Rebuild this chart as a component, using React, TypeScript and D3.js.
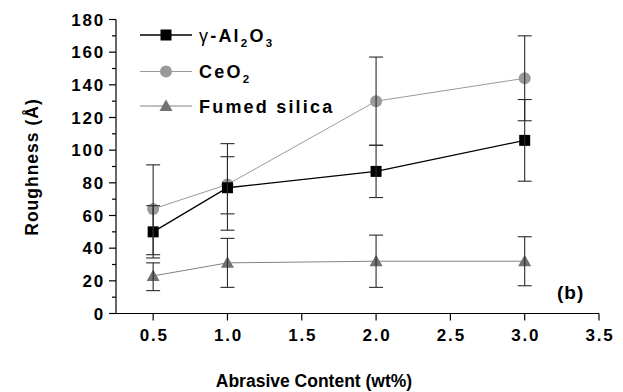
import React from 'react';
import * as d3 from 'd3';

const contents = [0.5, 1.0, 2.0, 3.0];
const alumina = [50, 77, 87, 106];
const aluminaErrUp = [16, 19, 16, 25];
const aluminaErrDown = [16, 16, 16, 25];
const ceria = [64, 79, 130, 144];
const ceriaErrUp = [27, 25, 27, 26];
const ceriaErrDown = [28, 28, 27, 26];
const silica = [23, 31, 32, 32];
const silicaErrUp = [8, 15, 16, 15];
const silicaErrDown = [9, 15, 16, 15];

const xTicks = [0.5, 1.0, 1.5, 2.0, 2.5, 3.0, 3.5];
const yTicks = [0, 20, 40, 60, 80, 100, 120, 140, 160, 180];
const yMinor = [10, 30, 50, 70, 90, 110, 130, 150, 170];

const W = 623;
const H = 392;
const margin = { top: 19.5, right: 24, bottom: 78.5, left: 116 };

const font = '"Liberation Sans", Arial, sans-serif';

type Series = {
  key: string;
  values: number[];
  up: number[];
  down: number[];
  color: string;
  lineColor: string;
  lineWidth: number;
  marker: 'square' | 'circle' | 'triangle';
};

const series: Series[] = [
  { key: 'ceria', values: ceria, up: ceriaErrUp, down: ceriaErrDown, color: '#9a9a9a', lineColor: '#9a9a9a', lineWidth: 1, marker: 'circle' },
  { key: 'silica', values: silica, up: silicaErrUp, down: silicaErrDown, color: '#727272', lineColor: '#808080', lineWidth: 1, marker: 'triangle' },
  { key: 'alumina', values: alumina, up: aluminaErrUp, down: aluminaErrDown, color: '#000000', lineColor: '#000000', lineWidth: 1.3, marker: 'square' },
];

const Marker = ({ type, x, y, color }: { type: string; x: number; y: number; color: string }) => {
  if (type === 'square') return <rect x={x - 5.5} y={y - 5.5} width={11} height={11} fill={color} />;
  if (type === 'circle') return <circle cx={x} cy={y} r={6} fill={color} />;
  return <path d={`M${x},${y - 6.5}L${x + 6.5},${y + 5}L${x - 6.5},${y + 5}Z`} fill={color} />;
};

export default function App() {
  const innerW = W - margin.left - margin.right;
  const innerH = H - margin.top - margin.bottom;

  const x = d3.scaleLinear().domain([0.25, 3.5]).range([0, innerW]);
  const y = d3.scaleLinear().domain([0, 180]).range([innerH, 0]);

  const line = d3.line<number>()
    .x((_, i) => x(contents[i]))
    .y(d => y(d));

  const legendRows = [
    { marker: 'square', color: '#000000', lineColor: '#000000', y: 35 },
    { marker: 'circle', color: '#9a9a9a', lineColor: '#9a9a9a', y: 71.5 },
    { marker: 'triangle', color: '#727272', lineColor: '#808080', y: 106 },
  ];

  return (
    <svg width={W} height={H} style={{ position: 'absolute', left: 0, top: 0, fontFamily: font, background: '#fff' }}>
      <g transform={`translate(${margin.left}, ${margin.top})`}>
        {/* series lines */}
        {series.map(s => (
          <path key={`l-${s.key}`} d={line(s.values) ?? ''} fill="none" stroke={s.lineColor} strokeWidth={s.lineWidth} />
        ))}

        {/* markers */}
        {series.map(s => s.values.map((v, i) => (
          <Marker key={`m-${s.key}-${i}`} type={s.marker} x={x(contents[i])} y={y(v)} color={s.color} />
        )))}

        {/* error bars */}
        {series.map(s => s.values.map((v, i) => {
          const cx = x(contents[i]);
          const top = y(v + s.up[i]);
          const bot = y(v - s.down[i]);
          return (
            <g key={`e-${s.key}-${i}`} stroke="#2a2a2a" strokeWidth={1.1}>
              <line x1={cx} x2={cx} y1={top} y2={bot} />
              <line x1={cx - 7} x2={cx + 7} y1={top} y2={top} />
              <line x1={cx - 7} x2={cx + 7} y1={bot} y2={bot} />
            </g>
          );
        }))}

        {/* axes */}
        <line x1={0} x2={0} y1={0} y2={innerH} stroke="#000" strokeWidth={1.2} />
        <line x1={0} x2={innerW} y1={innerH} y2={innerH} stroke="#000" strokeWidth={1.2} />
        {yTicks.map(t => (
          <g key={`yt-${t}`}>
            <line x1={-7} x2={0} y1={y(t)} y2={y(t)} stroke="#000" strokeWidth={1.2} />
            <text x={-11} y={y(t) + 6} textAnchor="end" fontSize={17} fontWeight="bold" letterSpacing={1.8}>{t}</text>
          </g>
        ))}
        {yMinor.map(t => (
          <line key={`ym-${t}`} x1={-4} x2={0} y1={y(t)} y2={y(t)} stroke="#000" strokeWidth={1.2} />
        ))}
        {xTicks.map(t => (
          <g key={`xt-${t}`}>
            <line x1={x(t)} x2={x(t)} y1={innerH} y2={innerH + 7} stroke="#000" strokeWidth={1.2} />
            <text x={x(t) + 1} y={innerH + 27} textAnchor="middle" fontSize={17} fontWeight="bold" letterSpacing={1.8}>{t.toFixed(1)}</text>
          </g>
        ))}

        <text x={441} y={279} fontSize={19} fontWeight="bold" letterSpacing={1}>(b)</text>
      </g>

      {/* legend */}
      {legendRows.map((r, i) => (
        <g key={`lg-${i}`}>
          <line x1={140} x2={192} y1={r.y} y2={r.y} stroke={r.lineColor} strokeWidth={i === 0 ? 1.3 : 1} />
          <Marker type={r.marker} x={166} y={r.y} color={r.color} />
        </g>
      ))}
      <text x={199} y={41.5} fontSize={18} fontWeight="bold" letterSpacing={2.2}>
        <tspan fontWeight="normal">γ</tspan>-Al<tspan fontSize={11.5} dy={5}>2</tspan><tspan dy={-5}>O</tspan><tspan fontSize={11.5} dy={5}>3</tspan>
      </text>
      <text x={199} y={78} fontSize={18} fontWeight="bold" letterSpacing={2.2}>
        CeO<tspan fontSize={11.5} dy={5}>2</tspan>
      </text>
      <text x={199} y={112.5} fontSize={18} fontWeight="bold" letterSpacing={2.2}>Fumed silica</text>

      {/* axis titles */}
      <text x={314} y={386.5} textAnchor="middle" fontSize={17.5} fontWeight="bold">Abrasive Content (wt%)</text>
      <text transform="translate(37.5, 167) rotate(-90)" textAnchor="middle" fontSize={17.5} fontWeight="bold" letterSpacing={1}>Roughness (Å)</text>
    </svg>
  );
}
